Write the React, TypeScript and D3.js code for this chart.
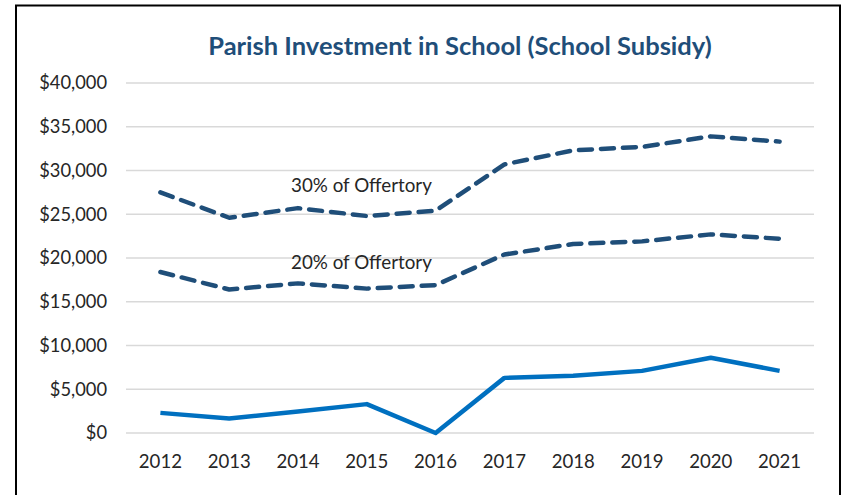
import React from "react";
import * as d3 from "d3";

const years = ["2012", "2013", "2014", "2015", "2016", "2017", "2018", "2019", "2020", "2021"];
const subsidy = [2300, 1650, 2450, 3300, 0, 6300, 6550, 7100, 8600, 7100];
const offertory30 = [27500, 24600, 25700, 24800, 25400, 30700, 32300, 32700, 33900, 33300];
const offertory20 = [18400, 16400, 17100, 16500, 16900, 20400, 21600, 21900, 22700, 22200];
const yTicks = [0, 5000, 10000, 15000, 20000, 25000, 30000, 35000, 40000];
const title = "Parish Investment in School (School Subsidy)";
const label30 = "30% of Offertory";
const label20 = "20% of Offertory";

const W = 842;
const H = 495;
const font = "Lato, sans-serif";

export default function App() {
  const x = d3.scaleBand<string>().domain(years).range([126, 814]);
  const y = d3.scaleLinear().domain([0, 40000]).range([433, 83]);
  const cx = (d: string) => (x(d) as number) + x.bandwidth() / 2;
  const line = d3
    .line<number>()
    .x((_, i) => cx(years[i]))
    .y((v) => y(v));
  const fmt = d3.format("$,");

  return (
    <svg
      width={W}
      height={H}
      style={{ position: "absolute", left: 0, top: 0, background: "#fff" }}
    >
      <rect x={0} y={0} width={W} height={H} fill="#fff" />
      <rect x={16} y={5.5} width={824} height={500} fill="#fff" stroke="#000" strokeWidth={2} />
      <text
        x={460}
        y={55}
        textAnchor="middle"
        fontFamily={font}
        fontWeight={700}
        fontSize={25.5}
        fill="#1F4E79"
      >
        {title}
      </text>
      {yTicks.map((t) => (
        <g key={t}>
          <line x1={126} x2={814} y1={y(t)} y2={y(t)} stroke="#d9d9d9" strokeWidth={1.5} />
          <text
            x={107}
            y={y(t)}
            dy="0.35em"
            textAnchor="end"
            fontFamily={font}
            fontSize={18.3}
            fill="#262626"
          >
            {fmt(t)}
          </text>
        </g>
      ))}
      {years.map((yr) => (
        <text
          key={yr}
          x={cx(yr)}
          y={461}
          dy="0.35em"
          textAnchor="middle"
          fontFamily={font}
          fontSize={18.6}
          fill="#262626"
        >
          {yr}
        </text>
      ))}
      <path
        d={line(offertory30) || ""}
        fill="none"
        stroke="#1F4E79"
        strokeWidth={4.5}
        strokeDasharray="13 9"
        strokeLinecap="round"
        strokeLinejoin="round"
      />
      <path
        d={line(offertory20) || ""}
        fill="none"
        stroke="#1F4E79"
        strokeWidth={4.5}
        strokeDasharray="13 9"
        strokeLinecap="round"
        strokeLinejoin="round"
      />
      <path
        d={line(subsidy) || ""}
        fill="none"
        stroke="#0070C0"
        strokeWidth={4.5}
        strokeLinejoin="round"
      />
      <text x={291} y={185} dy="0.35em" fontFamily={font} fontSize={18.8} fill="#262626">
        {label30}
      </text>
      <text x={291} y={262} dy="0.35em" fontFamily={font} fontSize={18.8} fill="#262626">
        {label20}
      </text>
    </svg>
  );
}
